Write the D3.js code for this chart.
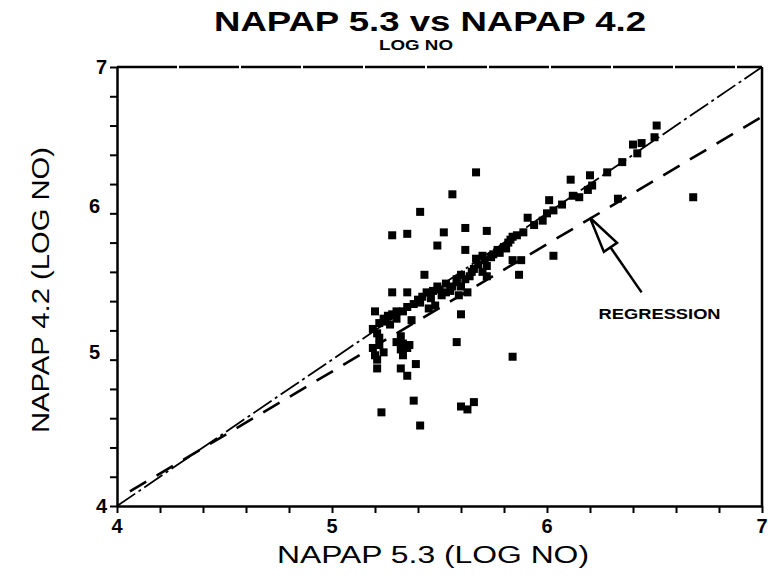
<!DOCTYPE html>
<html>
<head>
<meta charset="utf-8">
<script src="https://cdn.jsdelivr.net/npm/d3@7"></script>
<style>
  body { margin: 0; background: #fff; }
  text { font-family: "Liberation Sans", Arial, sans-serif; fill: #000; }
</style>
</head>
<body>
<div id="chart"></div>
<script>
// NAPAP 5.3 values (x) and NAPAP 4.2 values (y), log NO
var napap53 = [5.20,5.19,5.21,5.19,5.20,5.21,5.21,5.23,5.25,5.27,5.28,5.28,5.32,5.33,5.32,5.35,5.32,5.35,5.38,5.39,
  5.41,5.35,5.35,5.37,5.40,5.41,5.45,5.44,5.48,5.49,5.51,5.53,5.58,5.59,5.60,5.63,5.60,5.58,5.60,5.63,
  5.66,5.43,5.64,5.67,5.70,5.70,5.72,5.72,5.60,5.77,5.80,5.81,5.83,5.84,5.86,5.89,5.84,5.88,5.87,5.91,
  5.84,5.67,5.56,5.41,5.28,5.35,5.52,5.62,5.72,5.49,5.62,5.98,6.01,6.00,6.03,6.12,6.15,6.19,6.21,6.11,
  6.20,6.28,6.33,6.35,6.42,6.40,6.44,6.50,6.51,6.68,6.03,5.46,5.55,5.30,5.24,5.66,5.75,5.94,6.07,
  5.22,5.26,5.30,5.33,5.38,5.42,5.47,5.50,5.53,5.56,5.58,5.62,5.65,5.68,5.71,5.74,5.78,5.82,
  5.22,5.24,5.33,5.36,5.30,5.22];
var napap42 = [5.33,5.21,5.18,5.08,5.03,5.00,4.94,4.64,5.26,5.24,5.46,5.31,5.16,5.11,5.07,5.08,4.94,4.89,4.72,4.97,
  4.55,5.36,5.46,5.27,5.41,5.39,5.35,5.46,5.37,5.50,5.44,5.52,5.53,5.44,5.50,5.46,5.31,5.12,4.68,4.66,
  4.71,5.58,5.57,5.69,5.71,5.60,5.64,5.57,5.58,5.75,5.77,5.76,5.82,5.84,5.85,5.87,5.68,5.68,5.58,5.97,
  5.02,6.28,6.13,6.01,5.85,5.86,5.87,5.90,5.88,5.78,5.75,5.95,6.09,6.00,6.02,6.12,6.11,6.16,6.19,6.23,
  6.26,6.28,6.10,6.35,6.41,6.47,6.48,6.52,6.60,6.11,5.71,5.42,5.47,5.33,5.28,5.62,5.72,5.92,6.06,
  5.25,5.30,5.28,5.33,5.38,5.43,5.47,5.48,5.46,5.50,5.55,5.55,5.60,5.65,5.68,5.70,5.73,5.80,
  5.10,5.05,5.03,5.10,5.12,5.15];

var majorTicks = [4, 5, 6, 7];
var minorTicks = d3.range(4, 7.001, 0.2);

// 1:1 line and regression line end points
var oneToOneX = [4, 7], oneToOneY = [4, 7];
var regressX = [4.06, 7], regressY = [4.10, 6.66];

var width = 768, height = 576;
var plotL = 117, plotR = 762, plotT = 67, plotB = 506;

var svg = d3.select("#chart")
  .append("svg")
    .attr("width", width)
    .attr("height", height);

var x = d3.scaleLinear().domain([4, 7]).range([plotL, plotR]);
var y = d3.scaleLinear().domain([4, 7]).range([plotB, plotT]);

// titles
svg.append("text")
  .attr("x", 430).attr("y", 31)
  .attr("text-anchor", "middle")
  .attr("textLength", 432).attr("lengthAdjust", "spacingAndGlyphs")
  .style("font-size", "28px").style("font-weight", "bold")
  .text("NAPAP 5.3 vs NAPAP 4.2");

svg.append("text")
  .attr("x", 416).attr("y", 50)
  .attr("text-anchor", "middle")
  .attr("textLength", 74).attr("lengthAdjust", "spacingAndGlyphs")
  .style("font-size", "15px").style("font-weight", "bold")
  .text("LOG NO");

// axis labels
svg.append("text")
  .attr("x", 433).attr("y", 563)
  .attr("text-anchor", "middle")
  .attr("textLength", 312).attr("lengthAdjust", "spacingAndGlyphs")
  .style("font-size", "23px")
  .text("NAPAP 5.3  (LOG NO)");

svg.append("text")
  .attr("transform", "translate(49,290)rotate(-90)")
  .attr("text-anchor", "middle")
  .attr("textLength", 286).attr("lengthAdjust", "spacingAndGlyphs")
  .style("font-size", "23px")
  .text("NAPAP 4.2  (LOG NO)");

// bottom axis
var xAxis = svg.append("g")
  .attr("transform", "translate(0," + plotB + ")")
  .call(d3.axisBottom(x).tickValues(minorTicks).tickSize(7).tickSizeOuter(0).tickFormat(""));
xAxis.select(".domain").attr("stroke-width", 2.5);
xAxis.selectAll(".tick line").attr("stroke-width", 2);

svg.append("g").selectAll("text")
  .data(majorTicks)
  .enter().append("text")
  .attr("x", d => x(d))
  .attr("y", plotB + 27)
  .attr("text-anchor", "middle")
  .style("font-size", "20px").style("font-weight", "bold")
  .text(d => d);

// left axis
var yAxis = svg.append("g")
  .attr("transform", "translate(" + plotL + ",0)")
  .call(d3.axisLeft(y).tickValues(minorTicks).tickSize(7).tickSizeOuter(0).tickFormat(""));
yAxis.select(".domain").attr("stroke-width", 2.5);
yAxis.selectAll(".tick line").attr("stroke-width", 2);

svg.append("g").selectAll("text")
  .data(majorTicks)
  .enter().append("text")
  .attr("x", d => (d == 4 || d == 7) ? plotL - 10 : plotL - 17)
  .attr("y", d => y(d) - (d == 5 || d == 6 ? 8 : 0))
  .attr("dy", "0.36em")
  .attr("text-anchor", "end")
  .style("font-size", "20px").style("font-weight", "bold")
  .text(d => d);

// top and right frame
svg.append("line")
  .attr("x1", plotL).attr("x2", plotR).attr("y1", plotT).attr("y2", plotT)
  .attr("stroke", "#000").attr("stroke-width", 2.5)
  .attr("stroke-dasharray", "60,2");
svg.append("line")
  .attr("x1", plotR).attr("x2", plotR).attr("y1", plotT).attr("y2", plotB)
  .attr("stroke", "#000").attr("stroke-width", 2.5);

// 1:1 line (dash-dot)
svg.append("line")
  .attr("x1", x(oneToOneX[0])).attr("y1", y(oneToOneY[0]))
  .attr("x2", x(oneToOneX[1])).attr("y2", y(oneToOneY[1]))
  .attr("stroke", "#000").attr("stroke-width", 1.8)
  .attr("stroke-dasharray", "22,4,3,4");

// regression (dashed)
svg.append("line")
  .attr("x1", x(regressX[0])).attr("y1", y(regressY[0]))
  .attr("x2", x(regressX[1])).attr("y2", y(regressY[1]))
  .attr("stroke", "#000").attr("stroke-width", 2.6)
  .attr("stroke-dasharray", "19,12");

// points
var pts = napap53.map((v, i) => [v, napap42[i]]);
svg.append("g").selectAll("rect")
  .data(pts)
  .enter().append("rect")
  .attr("x", d => x(d[0]) - 4)
  .attr("y", d => y(d[1]) - 4)
  .attr("width", 8)
  .attr("height", 8)
  .attr("fill", "#000");

// REGRESSION annotation with hollow arrow
var tip = [x(6.2), y(5.97)];
var tail = [x(6.44), y(5.46)];
var ang = Math.atan2(tail[1] - tip[1], tail[0] - tip[0]);
var headLen = 36, headW = 8;
var bx = tip[0] + headLen * Math.cos(ang), by = tip[1] + headLen * Math.sin(ang);
var px = -Math.sin(ang) * headW, py = Math.cos(ang) * headW;

svg.append("line")
  .attr("x1", bx).attr("y1", by).attr("x2", tail[0]).attr("y2", tail[1])
  .attr("stroke", "#000").attr("stroke-width", 2.5);
svg.append("path")
  .attr("d", "M" + tip[0] + "," + tip[1] + "L" + (bx + px) + "," + (by + py) + "L" + (bx - px) + "," + (by - py) + "Z")
  .attr("fill", "#fff").attr("stroke", "#000").attr("stroke-width", 2.5);

svg.append("text")
  .attr("x", x(6.24)).attr("y", y(5.28))
  .attr("textLength", 122).attr("lengthAdjust", "spacingAndGlyphs")
  .style("font-size", "15px").style("font-weight", "bold")
  .text("REGRESSION");
</script>
</body>
</html>
